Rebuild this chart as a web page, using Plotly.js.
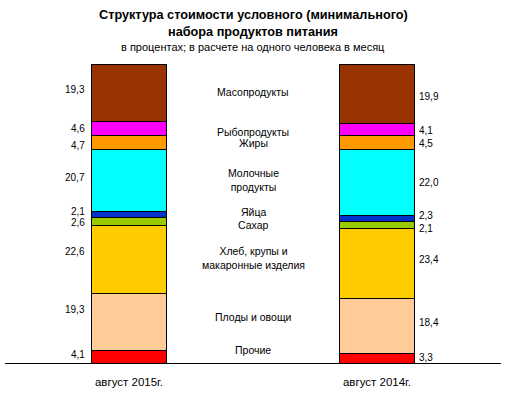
<!DOCTYPE html>
<html>
<head>
<meta charset="utf-8">
<script src="https://cdn.plot.ly/plotly-3.0.1.min.js"></script>
<style>html,body{margin:0;padding:0;background:#fff;}#chart{width:511px;height:395px;}</style>
</head>
<body>
<div id="chart"></div>
<script>
// Data (bottom to top of stack)
var periods = ['август 2015г.', 'август 2014г.'];
var categories = ['Прочие', 'Плоды и овощи', 'Хлеб, крупы и<br>макаронные изделия', 'Сахар', 'Яйца', 'Молочные<br>продукты', 'Жиры', 'Рыбопродукты', 'Масопродукты'];
var values2015 = [4.1, 19.3, 22.6, 2.6, 2.1, 20.7, 4.7, 4.6, 19.3];
var values2014 = [3.3, 18.4, 23.4, 2.1, 2.3, 22.0, 4.5, 4.1, 19.9];
var colors = ['#FF0000', '#FFCC99', '#FFCC00', '#99CC00', '#0033CC', '#00FFFF', '#FF9900', '#FF00FF', '#993300'];

// label placement tweaks (pixels)
var shift2015 = [2, 12, 8, -1, 3, 3, -3, 0, 3];
var shift2014 = [1, 3, 4, -3, 3, 0, -1, -1, -3];
var centerLabelY = [4.3, 15.4, 35.1, 46.2, 50.5, 61.2, 73.6, 77.3, 90.6];

var fmt = function (v) { return v.toFixed(1).replace('.', ','); };
var font = 'Arial, "Liberation Sans", sans-serif';

var traces = categories.map(function (c, i) {
  return {
    type: 'bar',
    name: c.replace('<br>', ' '),
    x: periods,
    y: [values2015[i], values2014[i]],
    width: 0.3,
    marker: {color: colors[i], line: {color: '#000', width: 1}},
    hovertemplate: '%{x}: %{y}<extra>' + c.replace('<br>', ' ') + '</extra>'
  };
});

var annotations = [];
var cum15 = 0, cum14 = 0;
categories.forEach(function (c, i) {
  var mid15 = cum15 + values2015[i] / 2;
  var mid14 = cum14 + values2014[i] / 2;
  cum15 += values2015[i];
  cum14 += values2014[i];
  annotations.push({x: -0.15, y: mid15, xref: 'x', yref: 'y', text: fmt(values2015[i]),
    showarrow: false, xanchor: 'right', yanchor: 'middle', xshift: -5, yshift: shift2015[i],
    font: {family: font, size: 10, color: '#000'}});
  annotations.push({x: 1.15, y: mid14, xref: 'x', yref: 'y', text: fmt(values2014[i]),
    showarrow: false, xanchor: 'left', yanchor: 'middle', xshift: 3, yshift: shift2014[i],
    font: {family: font, size: 10, color: '#000'}});
  annotations.push({x: 0.5, y: centerLabelY[i], xref: 'x', yref: 'y', text: c,
    showarrow: false, xanchor: 'center', yanchor: 'middle',
    font: {family: font, size: 10.5, color: '#000'}});
});

annotations.push({x: 0.5, y: 1.164, xref: 'paper', yref: 'paper', showarrow: false,
  text: '<b>Структура стоимости условного (минимального)</b>', yanchor: 'middle',
  font: {family: font, size: 12.7, color: '#000'}});
annotations.push({x: 0.5, y: 1.107, xref: 'paper', yref: 'paper', showarrow: false,
  text: '<b>набора продуктов питания</b>', yanchor: 'middle',
  font: {family: font, size: 12.7, color: '#000'}});
annotations.push({x: 0.5, y: 1.057, xref: 'paper', yref: 'paper', showarrow: false,
  text: 'в процентах; в расчете на одного человека в месяц', yanchor: 'middle',
  font: {family: font, size: 11, color: '#000'}});

var layout = {
  width: 511, height: 395,
  margin: {l: 5, r: 10, t: 64, b: 32, pad: 0},
  paper_bgcolor: '#fff', plot_bgcolor: '#fff',
  barmode: 'stack',
  showlegend: false,
  xaxis: {type: 'category', range: [-0.5, 1.5], showline: true, linecolor: '#000', linewidth: 1,
    ticks: '', showgrid: false, zeroline: false, fixedrange: true,
    ticklabelstandoff: 8,
    tickfont: {family: font, size: 11.5, color: '#000'}},
  yaxis: {range: [0, 100], visible: false, showgrid: false, zeroline: false, fixedrange: true},
  annotations: annotations
};

Plotly.newPlot('chart', traces, layout, {displayModeBar: false});
</script>
</body>
</html>
